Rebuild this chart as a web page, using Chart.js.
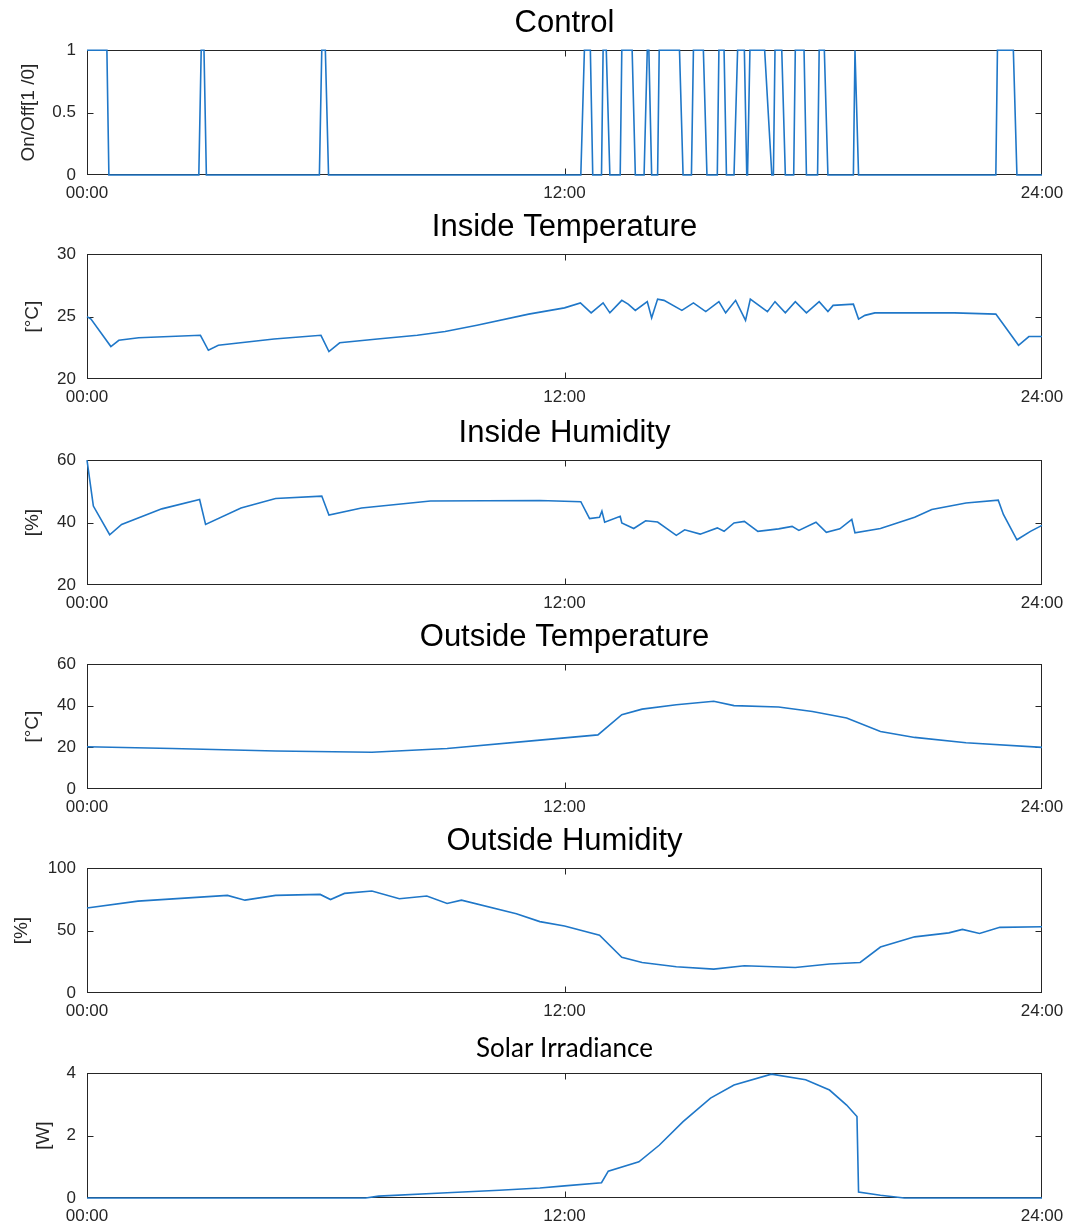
<!DOCTYPE html>
<html><head><meta charset="utf-8">
<script src="https://cdn.jsdelivr.net/npm/chart.js@4.4.1/dist/chart.umd.min.js"></script>
<style>
html,body{margin:0;padding:0;background:#fff;}
#wrap{position:relative;width:1074px;height:1227px;overflow:hidden;background:#fff;}
canvas{position:absolute;left:0;}
</style></head><body><div id="wrap">
<canvas id="c0" width="1074" height="205" style="top:0px"></canvas>
<canvas id="c1" width="1074" height="205" style="top:204px"></canvas>
<canvas id="c2" width="1074" height="205" style="top:410px"></canvas>
<canvas id="c3" width="1074" height="205" style="top:614px"></canvas>
<canvas id="c4" width="1074" height="205" style="top:818px"></canvas>
<canvas id="c5" width="1074" height="205" style="top:1023px"></canvas>
</div>
<script>
// ---- data (hours of day) ----
const xTickHours = [0, 12, 24];
const xTickLabels = ['00:00', '12:00', '24:00'];

const controlTime  = [0,0.50,0.55,2.81,2.87,2.94,3.00,5.84,5.90,5.99,6.07,12.41,12.50,12.65,12.71,12.93,12.97,13.05,13.14,13.40,13.44,13.70,13.78,14.00,14.08,14.12,14.19,14.34,14.38,14.89,14.98,15.19,15.24,15.49,15.58,15.84,15.88,16.01,16.07,16.26,16.35,16.52,16.58,16.60,16.66,17.03,17.21,17.25,17.29,17.46,17.55,17.76,17.80,18.02,18.08,18.36,18.40,18.53,18.62,19.26,19.30,19.39,22.84,22.88,23.28,23.37,24];
const controlValue = [1,1,0,0,1,1,0,0,1,1,0,0,1,1,0,0,1,1,0,0,1,1,0,0,1,1,0,0,1,1,0,0,1,1,0,0,1,1,0,0,1,1,0,0,1,1,0,0,1,1,0,0,1,1,0,0,1,1,0,0,1,0,0,1,1,0,0];
const controlYTicks = [0, 0.5, 1];

const inTempTime  = [0,0.1,0.6,0.8,1.3,2.85,3.05,3.3,4.7,5.88,6.08,6.35,7.3,8.3,9.0,9.8,11.1,12.0,12.4,12.67,12.97,13.14,13.44,13.6,13.78,14.08,14.19,14.34,14.5,14.95,15.24,15.55,15.88,16.05,16.3,16.55,16.67,17.1,17.29,17.55,17.8,18.08,18.4,18.62,18.75,19.26,19.39,19.55,19.8,21.8,22.84,23.0,23.41,23.67,24];
const inTempValue = [25.0,24.8,22.6,23.1,23.3,23.5,22.3,22.7,23.2,23.5,22.2,22.9,23.2,23.5,23.8,24.3,25.2,25.7,26.1,25.3,26.1,25.3,26.3,26.0,25.5,26.2,24.9,26.4,26.3,25.5,26.1,25.4,26.2,25.3,26.3,24.7,26.4,25.4,26.2,25.3,26.2,25.3,26.2,25.4,25.9,26.0,24.8,25.1,25.3,25.3,25.2,24.5,22.7,23.4,23.4];
const inTempYTicks = [20, 25, 30];

const inHumTime  = [0,0.16,0.57,0.87,1.88,2.83,2.98,3.87,4.74,5.9,6.08,6.9,8.63,11.38,12.41,12.63,12.88,12.94,13.01,13.4,13.44,13.74,14.04,14.34,14.81,15.02,15.41,15.84,16.01,16.26,16.52,16.86,17.38,17.72,17.89,18.32,18.58,18.92,19.22,19.3,19.94,20.8,21.23,22.09,22.9,23.03,23.37,23.71,24];
const inHumValue = [60,45.3,36.1,39.4,44.4,47.4,39.4,44.7,47.7,48.5,42.4,44.7,46.9,47.1,46.7,41.3,41.7,43.7,40.1,42.0,39.9,38.1,40.6,40.2,35.9,37.7,36.3,38.3,37.2,39.9,40.4,37.2,38.0,38.8,37.5,40.1,36.9,38.0,41.0,36.7,38.1,41.7,44.2,46.3,47.2,42.6,34.5,37.2,39.1];
const inHumYTicks = [20, 40, 60];

const outTempTime  = [0,2.14,4.74,7.16,9.05,11.38,12.84,13.44,13.95,14.81,15.75,16.26,17.38,18.23,19.09,19.94,20.8,22.09,24];
const outTempValue = [20.3,19.5,18.3,17.7,19.5,23.5,26.0,35.7,38.4,40.5,42.2,40.1,39.4,37.3,34.1,27.6,24.8,22.2,20.0];
const outTempYTicks = [0, 20, 40, 60];

const outHumTime  = [0,1.28,3.53,3.97,4.74,5.86,6.12,6.47,7.16,7.85,8.54,9.05,9.41,10.79,11.38,12.0,12.88,13.44,13.95,14.81,15.75,16.52,17.8,18.66,19.43,19.94,20.8,21.66,22.0,22.43,22.94,24];
const outHumValue = [68.1,73.6,78.2,74.4,78.2,79.0,74.9,79.8,81.7,75.5,77.7,71.7,74.4,63.5,57.2,53.7,46.3,28.6,24.5,21.0,19.1,21.8,20.4,23.2,24.5,36.8,45.0,48.2,51.0,47.7,52.6,53.1];
const outHumYTicks = [0, 50, 100];

const solarTime  = [0,7.0,7.33,9.05,10.36,11.38,12.0,12.93,13.1,13.87,14.38,14.98,15.67,16.26,17.2,18.06,18.66,19.09,19.35,19.39,19.94,20.54,24];
const solarValue = [0,0,0.06,0.17,0.25,0.32,0.39,0.49,0.86,1.16,1.69,2.45,3.2,3.62,3.97,3.79,3.46,2.98,2.61,0.19,0.09,0,0];
const solarYTicks = [0, 2, 4];

// ---- rendering ----
const LINE = '#1f77c8';
const AXIS = '#262626';
const SANS = "'Liberation Sans', Arial, Helvetica, sans-serif";

const framePlugin = {
  id: 'frame',
  beforeDatasetsDraw(chart) {
    const {ctx, chartArea: a, scales: {x, y}} = chart;
    ctx.save();
    ctx.strokeStyle = AXIS; ctx.lineWidth = 1;
    const l = Math.round(a.left) + 0.5, r = Math.round(a.right) - 0.5;
    const t = Math.round(a.top) + 0.5, b = Math.round(a.bottom) - 0.5;
    ctx.strokeRect(l, t, r - l, b - t);
    const L = 6;
    ctx.beginPath();
    x.ticks.forEach(tk => {
      if (tk.value > x.min && tk.value < x.max) {
        const px = Math.round(x.getPixelForValue(tk.value)) + 0.5;
        ctx.moveTo(px, b); ctx.lineTo(px, b - L);
        ctx.moveTo(px, t); ctx.lineTo(px, t + L);
      }
    });
    y.ticks.forEach(tk => {
      if (tk.value > y.min && tk.value < y.max) {
        const py = Math.round(y.getPixelForValue(tk.value)) + 0.5;
        ctx.moveTo(l, py); ctx.lineTo(l + L, py);
        ctx.moveTo(r, py); ctx.lineTo(r - L, py);
      }
    });
    ctx.stroke();
    ctx.restore();
  }
};

function makeChart(id, cfg) {
  const pts = cfg.time.map((t, i) => ({x: t, y: cfg.value[i]}));
  new Chart(document.getElementById(id), {
    type: 'line',
    data: { datasets: [{ data: pts, borderColor: LINE, borderWidth: 1.6, pointRadius: 0, tension: 0, fill: false, clip: false }] },
    options: {
      responsive: false, animation: false, events: [],
      layout: { padding: { left: 0, right: 32, top: 0, bottom: 0 } },
      plugins: {
        legend: { display: false }, tooltip: { enabled: false },
        title: { display: true, text: cfg.title, fullSize: false, color: '#000',
                 font: cfg.titleFont, padding: cfg.titlePad }
      },
      scales: {
        x: {
          type: 'linear', min: 0, max: 24,
          afterBuildTicks: s => { s.ticks = xTickHours.map(v => ({value: v})); },
          afterFit: s => { s.height = 30; },
          grid: { display: false, drawTicks: false }, border: { display: false },
          ticks: { color: AXIS, font: { family: SANS, size: 17 }, padding: 8, maxRotation: 0,
                   callback: v => xTickLabels[xTickHours.indexOf(v)] }
        },
        y: {
          min: cfg.yTicks[0], max: cfg.yTicks[cfg.yTicks.length - 1],
          afterBuildTicks: s => { s.ticks = cfg.yTicks.map(v => ({value: v})); },
          afterFit: s => { s.width = 87; },
          grid: { display: false, drawTicks: false }, border: { display: false },
          ticks: { color: AXIS, font: { family: SANS, size: 17 }, padding: 11,
                   callback: v => String(v) },
          title: { display: true, text: cfg.yTitle, color: AXIS,
                   font: { family: SANS, size: 19 }, padding: { top: cfg.yTitlePad, bottom: 0 } }
        }
      }
    },
    plugins: [framePlugin]
  });
}

const mainTitleFont = { family: SANS, size: 31, weight: 'normal' };
const mainTitlePad = { top: 5, bottom: 8 };

makeChart('c0', { title: 'Control', titleFont: mainTitleFont, titlePad: mainTitlePad,
  yTitle: 'On/Off[1 /0]', yTitlePad: 17, yTicks: controlYTicks, time: controlTime, value: controlValue });
makeChart('c1', { title: 'Inside Temperature', titleFont: mainTitleFont, titlePad: mainTitlePad,
  yTitle: '[°C]', yTitlePad: 21, yTicks: inTempYTicks, time: inTempTime, value: inTempValue });
makeChart('c2', { title: 'Inside Humidity', titleFont: mainTitleFont, titlePad: mainTitlePad,
  yTitle: '[%]', yTitlePad: 21, yTicks: inHumYTicks, time: inHumTime, value: inHumValue });
makeChart('c3', { title: 'Outside Temperature', titleFont: mainTitleFont, titlePad: mainTitlePad,
  yTitle: '[°C]', yTitlePad: 21, yTicks: outTempYTicks, time: outTempTime, value: outTempValue });
makeChart('c4', { title: 'Outside Humidity', titleFont: mainTitleFont, titlePad: mainTitlePad,
  yTitle: '[%]', yTitlePad: 10, yTicks: outHumYTicks, time: outHumTime, value: outHumValue });
makeChart('c5', { title: 'Solar Irradiance', titleFont: { family: "Lato, 'Open Sans', sans-serif", size: 26, weight: 'normal' },
  titlePad: { top: 10, bottom: 9 },
  yTitle: '[W]', yTitlePad: 32, yTicks: solarYTicks, time: solarTime, value: solarValue });
</script>
</body></html>
